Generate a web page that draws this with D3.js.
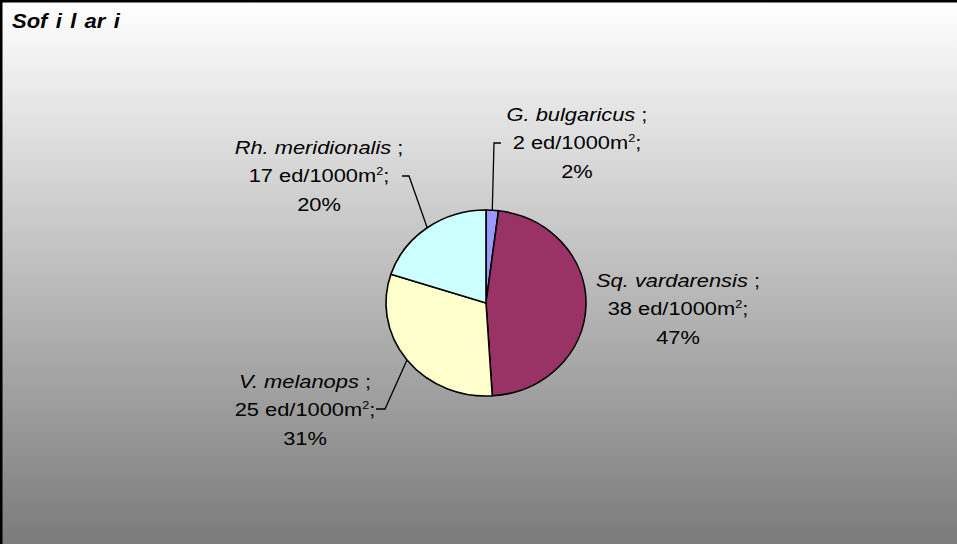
<!DOCTYPE html>
<html>
<head>
<meta charset="utf-8">
<script src="https://cdnjs.cloudflare.com/ajax/libs/d3/7.8.5/d3.min.js"></script>
<style>
    html, body { margin:0; padding:0; background:#fff; }
    svg { display:block; }
    text { font-family: "Liberation Sans", Arial, sans-serif; fill:#000; }
</style>
</head>
<body>
<svg width="957" height="544"></svg>
<script>
// data
var species  = ["G. bulgaricus", "Sq. vardarensis", "V. melanops", "Rh. meridionalis"];
var density  = [2, 38, 25, 17];          // ed/1000m2
var percents = [2, 47, 31, 20];          // share shown in the labels
var colors   = ["#9999ff", "#993366", "#ffffcc", "#ccffff"];

var svg = d3.select("svg"),
    width = +svg.attr("width"),
    height = +svg.attr("height");

// background gradient
var grad = svg.append("defs").append("linearGradient")
    .attr("id", "bg").attr("x1", 0).attr("y1", 0).attr("x2", 0).attr("y2", 1);
grad.append("stop").attr("offset", "0%").attr("stop-color", "#ffffff");
grad.append("stop").attr("offset", "100%").attr("stop-color", "#767676");

svg.append("rect")
    .attr("x", 1.25).attr("y", 1.25)
    .attr("width", width + 20).attr("height", height + 20)
    .attr("fill", "url(#bg)")
    .attr("stroke", "#000")
    .attr("stroke-width", 2.5);

// title
svg.append("text")
    .attr("transform", "translate(12,28) scale(1.1,1)")
    .style("font-size", "20px")
    .style("font-weight", "bold")
    .style("font-style", "italic")
    .style("word-spacing", "2px")
    .text("Sof i l ar i");

var cx = 486, cy = 303, r = 100, sy = 0.93;

var pie = d3.pie().sort(null).value(function(d) { return d; });
var arc = d3.arc().innerRadius(0).outerRadius(r);
var arcs = pie(percents);

var g = svg.append("g")
    .attr("transform", "translate(" + cx + "," + cy + ") scale(1," + sy + ")");

g.selectAll("path")
    .data(arcs)
    .enter().append("path")
    .attr("d", arc)
    .attr("fill", function(d, i) { return colors[i]; })
    .attr("stroke", "#000")
    .attr("stroke-width", 1.6)
    .attr("vector-effect", "non-scaling-stroke");

// label layout: centre x, first baseline, leader elbow + end (null = no leader)
var labelPos = [
    {x: 577, y: 121, leader: [[494, 143], [501, 143]]},
    {x: 678, y: 287, leader: null},
    {x: 305, y: 388, leader: [[385, 409], [376, 409]]},
    {x: 319, y: 154, leader: [[409, 176], [402, 176]]}
];

arcs.forEach(function(d, i) {
    var p = labelPos[i];
    if (p.leader) {
        var a = (d.startAngle + d.endAngle) / 2;
        var start = [cx + r * Math.sin(a), cy - r * Math.cos(a) * sy];
        svg.append("path")
            .attr("d", d3.line()([start].concat(p.leader)))
            .attr("fill", "none")
            .attr("stroke", "#000")
            .attr("stroke-width", 1.3);
    }

    var lg = svg.append("g")
        .attr("transform", "translate(" + p.x + "," + p.y + ") scale(1.15,1)");

    var t1 = lg.append("text").attr("text-anchor", "middle").style("font-size", "19px");
    t1.append("tspan").style("font-style", "italic").text(species[i]);
    t1.append("tspan").text(" ;");

    var t2 = lg.append("text").attr("y", 28.5).attr("text-anchor", "middle").style("font-size", "19px");
    t2.append("tspan").text(density[i] + " ed/1000m");
    t2.append("tspan").attr("dy", -7).style("font-size", "11px").text("2");
    t2.append("tspan").attr("dy", 7).text(";");

    lg.append("text").attr("y", 57).attr("text-anchor", "middle").style("font-size", "19px")
        .text(percents[i] + "%");
});
</script>
</body>
</html>
